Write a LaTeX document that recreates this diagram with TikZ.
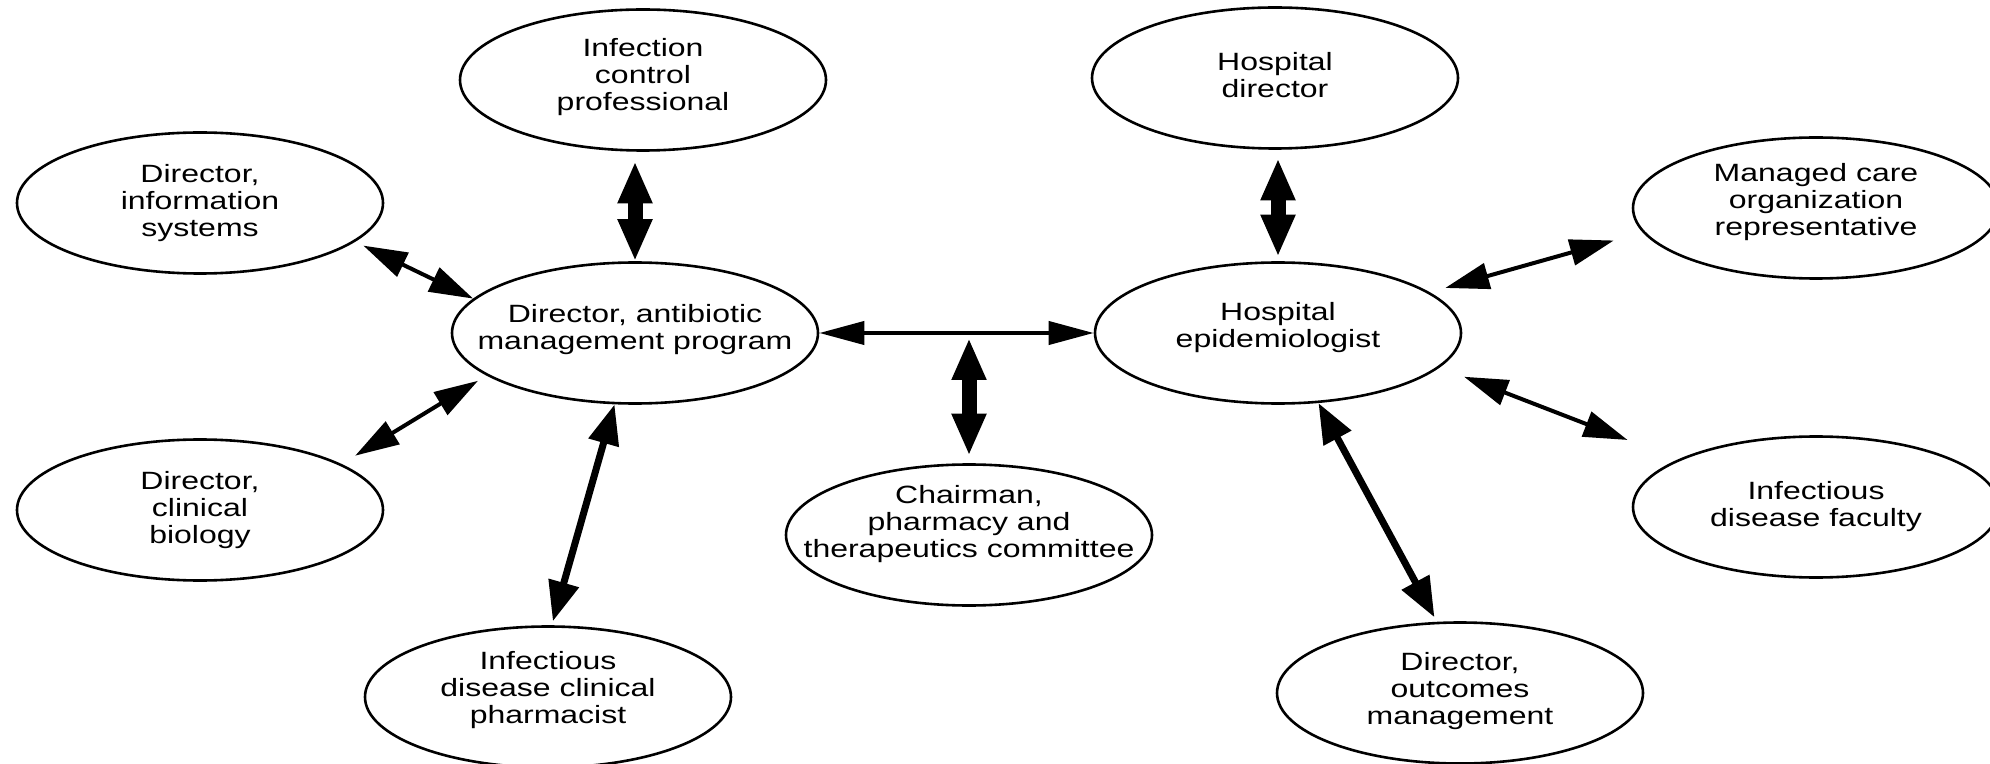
\documentclass[tikz,border=0pt]{standalone}
\usepackage{fontspec}
\setmainfont{Liberation Sans}[FakeStretch=1.28]
\usetikzlibrary{shapes.geometric,arrows.meta}
\tikzset{
  ell/.style={draw, ellipse, line width=1.3pt, minimum width=183pt, minimum height=70.5pt, inner sep=0pt},
  txt/.style={align=center, font=\fontsize{12.5}{13.5}\selectfont, inner sep=0pt},
  vbi/.style={line width=7.5pt, {Triangle[length=21pt,width=16pt]}-{Triangle[length=21pt,width=16pt]}},
  hbi/.style={line width=2pt, {Triangle[length=22.5pt,width=11.5pt]}-{Triangle[length=22.5pt,width=11.5pt]}},
  lbi/.style={line width=3.5pt, {Triangle[length=20pt,width=15pt]}-{Triangle[length=20pt,width=15pt]}},
  sbi/.style={line width=2pt, {Triangle[length=22pt,width=13pt]}-{Triangle[length=22pt,width=13pt]}},
}
\begin{document}
\begin{tikzpicture}[x=0.5pt,y=-0.5pt]
\useasboundingbox (0,0) rectangle (1990,764);
\node[ell, label={[txt,yshift=1.5pt]center:Infection\\control\\professional}] (icp) at (643,80) {};
\node[ell, label={[txt]center:Director,\\information\\systems}] (dis) at (200,203) {};
\node[ell, label={[txt,yshift=1.5pt]center:Director, antibiotic\\management program}] (damp) at (635,333) {};
\node[ell, label={[txt]center:Director,\\clinical\\biology}] (dcb) at (200,510) {};
\node[ell, label={[txt,yshift=3.5pt]center:Infectious\\disease clinical\\pharmacist}] (idcp) at (548,697) {};
\node[ell, label={[txt,yshift=5.5pt]center:Chairman,\\pharmacy and\\therapeutics committee}] (chair) at (969,535) {};
\node[ell, label={[txt,yshift=1.5pt]center:Hospital\\director}] (hd) at (1275,78) {};
\node[ell, label={[txt,yshift=2.5pt]center:Hospital\\epidemiologist}] (he) at (1278,333) {};
\node[ell, label={[txt,yshift=3pt]center:Managed care\\organization\\representative}] (mco) at (1816,208) {};
\node[ell, label={[txt]center:Infectious\\disease faculty}] (idf) at (1816,507) {};
\node[ell, label={[txt,yshift=1pt]center:Director,\\outcomes\\management}] (dom) at (1460,693) {};

\coordinate (jn) at (chair.north |- damp.east);

\draw[hbi] (damp.east) -- (he.west);
\draw[vbi, shorten <=4.75pt] (icp.south -| damp.north) -- (damp.north);
\draw[vbi, shorten <=4.25pt, shorten >=2.25pt] (he.north |- hd.south) -- (he.north);
\draw[vbi, shorten <=2.5pt, shorten >=3.75pt] (jn) -- (chair.north);
\draw[sbi, shorten <=4.5pt] (dis.-14) -- (damp.168);
\draw[sbi, shorten <=8pt, shorten >=5pt] (dcb.18) -- (damp.196);
\draw[lbi, shorten <=2pt] (idcp.87) -- (damp.254);
\draw[lbi, shorten >=2.5pt] (he.-60) -- (dom.108);
\draw[sbi, shorten <=15pt, shorten >=8pt] (mco.188) -- (he.15);
\draw[sbi, shorten <=13pt, shorten >=27pt] (he.-12) -- (idf.161);
\end{tikzpicture}
\end{document}
